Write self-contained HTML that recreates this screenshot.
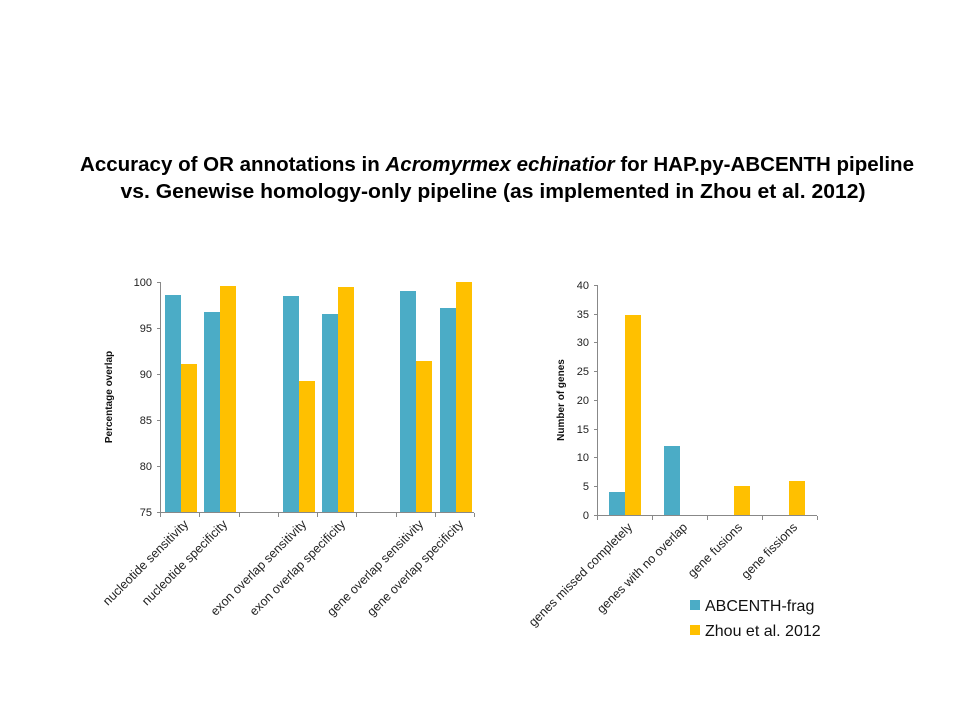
<!DOCTYPE html>
<html><head><meta charset="utf-8"><style>
html,body{margin:0;padding:0;background:#fff;}
svg{display:block;}
text{font-family:"Liberation Sans",sans-serif;}
</style></head><body>
<svg width="960" height="720" viewBox="0 0 960 720" xmlns="http://www.w3.org/2000/svg">
<text x="497" y="171" font-size="20" font-weight="bold" text-anchor="middle" textLength="834" lengthAdjust="spacingAndGlyphs">Accuracy of OR annotations in <tspan font-style="italic">Acromyrmex echinatior</tspan> for HAP.py-ABCENTH pipeline</text>
<text x="493" y="198" font-size="20" font-weight="bold" text-anchor="middle" textLength="745" lengthAdjust="spacingAndGlyphs">vs. Genewise homology-only pipeline (as implemented in Zhou et al. 2012)</text>

<!-- Left chart -->
<g fill="#4BACC6">
<rect x="165" y="295" width="16" height="217"/>
<rect x="204" y="312" width="16" height="200"/>
<rect x="283" y="296" width="16" height="216"/>
<rect x="322" y="314" width="16" height="198"/>
<rect x="400" y="291" width="16" height="221"/>
<rect x="440" y="308" width="16" height="204"/>
</g>
<g fill="#FFC000">
<rect x="181" y="364" width="16" height="148"/>
<rect x="220" y="286" width="16" height="226"/>
<rect x="299" y="381" width="16" height="131"/>
<rect x="338" y="287" width="16" height="225"/>
<rect x="416" y="361" width="16" height="151"/>
<rect x="456" y="282" width="16" height="230"/>
</g>
<g stroke="#888" stroke-width="1" fill="none">
<line x1="160.5" y1="282" x2="160.5" y2="513"/>
<line x1="160" y1="512.5" x2="474" y2="512.5"/>
<path d="M157 282.5h3M157 328.5h3M157 374.5h3M157 420.5h3M157 466.5h3M157 512.5h3"/>
<path d="M160.5 513v4M199.5 513v4M239.5 513v4M278.5 513v4M317.5 513v4M356.5 513v4M396.5 513v4M435.5 513v4M474.5 513v4"/>
</g>
<g font-size="11" fill="#222" text-anchor="end">
<text x="152" y="286">100</text><text x="152" y="332">95</text><text x="152" y="378">90</text>
<text x="152" y="424">85</text><text x="152" y="470">80</text><text x="152" y="516">75</text>
</g>
<text transform="translate(112,397) rotate(-90)" font-size="10" font-weight="bold" text-anchor="middle" fill="#111">Percentage overlap</text>
<g font-size="12.5" fill="#222" text-anchor="end">
<text transform="translate(189,525) rotate(-45)">nucleotide sensitivity</text>
<text transform="translate(228,525) rotate(-45)">nucleotide specificity</text>
<text transform="translate(307,525) rotate(-45)">exon overlap sensitivity</text>
<text transform="translate(346,525) rotate(-45)">exon overlap specificity</text>
<text transform="translate(424,525) rotate(-45)">gene overlap sensitivity</text>
<text transform="translate(464,525) rotate(-45)">gene overlap specificity</text>
</g>

<!-- Right chart -->
<rect x="609" y="492" width="16" height="23" fill="#4BACC6"/>
<rect x="664" y="446" width="16" height="69" fill="#4BACC6"/>
<rect x="625" y="315" width="16" height="200" fill="#FFC000"/>
<rect x="734" y="486" width="16" height="29" fill="#FFC000"/>
<rect x="789" y="481" width="16" height="34" fill="#FFC000"/>
<g stroke="#888" stroke-width="1" fill="none">
<line x1="597.5" y1="285" x2="597.5" y2="516"/>
<line x1="597" y1="515.5" x2="817" y2="515.5"/>
<path d="M594 285.5h3M594 314.5h3M594 342.5h3M594 371.5h3M594 400.5h3M594 429.5h3M594 457.5h3M594 486.5h3M594 515.5h3"/>
<path d="M597.5 516v4M652.5 516v4M707.5 516v4M762.5 516v4M817.5 516v4"/>
</g>
<g font-size="11" fill="#222" text-anchor="end">
<text x="589" y="289">40</text><text x="589" y="318">35</text><text x="589" y="346">30</text>
<text x="589" y="375">25</text><text x="589" y="404">20</text><text x="589" y="433">15</text>
<text x="589" y="461">10</text><text x="589" y="490">5</text><text x="589" y="519">0</text>
</g>
<text transform="translate(564,400) rotate(-90)" font-size="10" font-weight="bold" text-anchor="middle" fill="#111">Number of genes</text>
<g font-size="12.5" fill="#222" text-anchor="end">
<text transform="translate(633,528) rotate(-45)">genes missed completely</text>
<text transform="translate(688,528) rotate(-45)">genes with no overlap</text>
<text transform="translate(743,528) rotate(-45)">gene fusions</text>
<text transform="translate(798,528) rotate(-45)">gene fissions</text>
</g>
<rect x="690" y="600" width="10" height="10" fill="#4BACC6"/>
<text x="705" y="611" font-size="16" fill="#111">ABCENTH-frag</text>
<rect x="690" y="625" width="10" height="10" fill="#FFC000"/>
<text x="705" y="636" font-size="16" fill="#111">Zhou et al. 2012</text>
</svg>
</body></html>
